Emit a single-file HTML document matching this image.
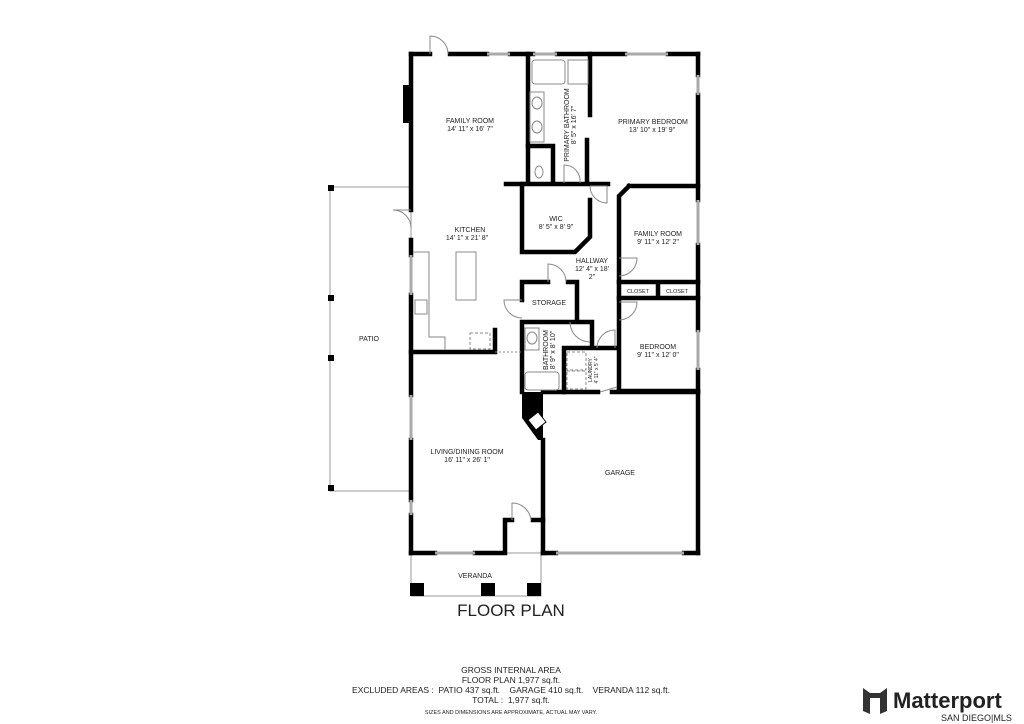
<!DOCTYPE html>
<html><head><meta charset="utf-8"><style>
html,body{margin:0;padding:0;background:#fff;}
svg{display:block;}
text{font-family:"Liberation Sans",sans-serif;fill:#222;}
</style></head><body>
<svg width="1024" height="724" viewBox="0 0 1024 724" xmlns="http://www.w3.org/2000/svg">
<rect x="330" y="187" width="81" height="304" fill="none" stroke="#999" stroke-width="1"/>
<rect x="328" y="185" width="6" height="6" fill="#000"/>
<rect x="328" y="295" width="6" height="6" fill="#000"/>
<rect x="328" y="355" width="6" height="6" fill="#000"/>
<rect x="328" y="485" width="6" height="6" fill="#000"/>
<rect x="411" y="553" width="130" height="43" fill="none" stroke="#999" stroke-width="1"/>
<rect x="410" y="583" width="14" height="13" fill="#000"/>
<rect x="481" y="583" width="14" height="13" fill="#000"/>
<rect x="527" y="583" width="14" height="13" fill="#000"/>

<g stroke="#000" stroke-width="4.5" fill="none" stroke-linecap="square">
<path d="M411 54 H430 M450 54 H487 M510 54 H533 M557 54 H625 M668 54 H698"/>
<path d="M698 54 V75 M698 95 V200 M698 245 V330 M698 370 V553"/>
<path d="M411 54 V210 M411 240 V255 M411 295 V395 M411 440 V500 M411 515 V553"/>
<path d="M411 553 H435 M475 553 H505 V520 H512 M533 520 H543 M543 553 H556 M684 553 H698"/>
<path d="M528 54 V183 M590 54 V115 M587 140 V183 M506 184 H608"/>
<path d="M528 146 H553 V183"/>
<path d="M522 184 V252 H575 L590 237 V200"/>
<path d="M629 186 H698 M629 186 L619 196 V391"/>
<path d="M619 282 H698 M619 298 H698 M658 282 V298"/>
<path d="M619 391 H698"/>
<path d="M522 282 H548 M568 282 H577 V320 M522 282 V300"/>
<path d="M522 322 V392 M522 322 H592 V345 M564 348 V392 M564 348 H617"/>
<path d="M411 352 H495 M495 352 V330"/>
<path d="M543 392 H598 M612 392 H698 M543 440 V553"/>
</g>
<rect x="403" y="85" width="9" height="38" fill="#000"/>
<polygon points="522,392 543,392 543,440 538,440 522,418" fill="#000"/>
<polygon points="528,420 538,412 546,422 536,430" fill="#fff" stroke="#000"/>
<g stroke="#aaa" stroke-width="3" fill="none">
<path d="M487 54 H510 M533 54 H557 M625 54 H668 M435 553 H475 M556 553 H684"/>
<path d="M698 75 V95 M698 200 V245 M698 330 V370 M411 395 V440 M411 500 V515 M411 255 V295"/>
</g>
<g stroke="#888" stroke-width="1" fill="none">
<rect x="532" y="60" width="33" height="24" rx="3"/><rect x="568" y="60" width="20" height="24"/>
<rect x="530" y="92" width="14" height="50"/>
<ellipse cx="537" cy="103" rx="5" ry="6"/><ellipse cx="537" cy="127" rx="5" ry="6"/>
<ellipse cx="539" cy="172" rx="4" ry="6"/>
<rect x="456" y="252" width="20" height="48"/>
<path d="M413 252 H429 V337 H445 V350"/>
<rect x="415" y="300" width="12" height="14"/>
<rect x="470" y="333" width="20" height="16" stroke-dasharray="3,2"/>
<rect x="525" y="328" width="14" height="22"/><ellipse cx="532" cy="338" rx="5" ry="6"/>
<rect x="525" y="372" width="34" height="18" rx="3"/>
<rect x="567" y="352" width="19" height="18" stroke-dasharray="3,2"/>
<rect x="567" y="371" width="19" height="18" stroke-dasharray="3,2"/>
<path d="M430 54 V36 A18 18 0 0 1 448 54"/>
<path d="M411 210 H393 A18 18 0 0 1 411 228"/>
<path d="M564 183 V165 A16 16 0 0 1 580 183"/>
<path d="M590 186 H607 V203 A17 17 0 0 1 590 186"/>
<path d="M548 282 V264 A18 18 0 0 1 566 282"/>
<path d="M522 300 H504 A18 18 0 0 0 522 318"/>
<path d="M619 258 H637 A18 18 0 0 1 619 276"/>
<path d="M619 302 H637 A18 18 0 0 1 619 320"/>
<path d="M570 322 A20 20 0 0 0 590 342"/>
<path d="M597 348 A18 18 0 0 1 615 330 V348"/>
<path d="M600 392 L617 387"/>
<path d="M512 520 V503 A19 19 0 0 1 531 520"/>
<path d="M495 352 H522" stroke-dasharray="2,2"/>
</g>
<g font-size="7" text-anchor="middle">
<text x="470" y="123">FAMILY ROOM</text><text x="470" y="131">14' 11" x 16' 7"</text>
<text x="470" y="232">KITCHEN</text><text x="467" y="240">14' 1" x 21' 8"</text>
<text x="653" y="124">PRIMARY BEDROOM</text><text x="652" y="132">13' 10" x 19' 9"</text>
<text x="556" y="221">WIC</text><text x="556" y="229">8' 5" x 8' 9"</text>
<text x="658" y="236">FAMILY ROOM</text><text x="658" y="244">9' 11" x 12' 2"</text>
<text x="592" y="263">HALLWAY</text><text x="592" y="271">12' 4" x 18'</text><text x="592" y="279">2"</text>
<text x="549" y="305">STORAGE</text>
<text x="658" y="349">BEDROOM</text><text x="658" y="357">9' 11" x 12' 0"</text>
<text x="369" y="341">PATIO</text>
<text x="467" y="454">LIVING/DINING ROOM</text><text x="467" y="462">16' 11" x 26' 1"</text>
<text x="620" y="475">GARAGE</text>
<text x="475" y="578">VERANDA</text>
<text font-size="5.5" x="638" y="293">CLOSET</text><text font-size="5.5" x="677" y="293">CLOSET</text>
<text transform="translate(569,125) rotate(-90)">PRIMARY BATHROOM</text>
<text transform="translate(576,125) rotate(-90)">8' 5" x 16' 7"</text>
<text transform="translate(548,350) rotate(-90)">BATHROOM</text>
<text transform="translate(555,350) rotate(-90)">8' 9" x 8' 10"</text>
<text font-size="5" transform="translate(592,370) rotate(-90)">LAUNDRY</text>
<text font-size="5" transform="translate(598,370) rotate(-90)">4' 11" x 5' 4"</text>
</g>
<text x="511" y="616" font-size="17" text-anchor="middle">FLOOR PLAN</text>
<g font-size="8.5" text-anchor="middle">
<text x="511" y="673">GROSS INTERNAL AREA</text>
<text x="511" y="683">FLOOR PLAN 1,977 sq.ft.</text>
<text x="511" y="693" xml:space="preserve">EXCLUDED AREAS :  PATIO 437 sq.ft.    GARAGE 410 sq.ft.    VERANDA 112 sq.ft.</text>
<text x="511" y="703" xml:space="preserve">TOTAL :  1,977 sq.ft.</text>
<text x="511" y="714" font-size="5.5" fill="#777">SIZES AND DIMENSIONS ARE APPROXIMATE, ACTUAL MAY VARY.</text>
</g>
<path d="M863 688 L870 693 V714 L863 711 Z M887 688 L880 693 V714 L887 711 Z M870 693 H880 V698 H870 Z" fill="#333"/>
<text x="893" y="708" font-size="22" font-weight="bold" fill="#333">Matterport</text>
<text x="941" y="721" font-size="9" fill="#999">SAN DIEGO|MLS</text>
</svg>
</body></html>
